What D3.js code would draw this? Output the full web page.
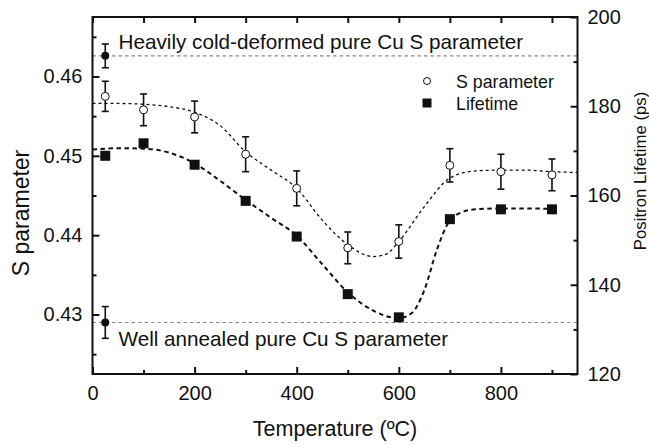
<!DOCTYPE html>
<html>
<head>
<meta charset="utf-8">
<script src="https://cdn.jsdelivr.net/npm/d3@7"></script>
<style>
  html, body { margin: 0; padding: 0; background: #fff; }
  svg { display: block; font-family: "Liberation Sans", Arial, Helvetica, sans-serif; }
</style>
</head>
<body>
<svg id="chart" width="649" height="445"></svg>
<script>
// Annealing temperatures (ºC)
const temperatures = [25, 100, 200, 300, 400, 500, 600, 700, 800, 900];
// Doppler S parameter and its uncertainty
const sValues = [0.4575, 0.4558, 0.4549, 0.4502, 0.4459, 0.4384, 0.4392, 0.4488, 0.4480, 0.4476];
const sErrors = [0.0019, 0.0020, 0.0020, 0.0022, 0.0022, 0.0020, 0.0021, 0.0021, 0.0022, 0.0020];
// Mean positron lifetime (ps)
const lifetimes = [168.9, 171.7, 166.9, 158.8, 150.8, 137.9, 132.7, 154.7, 156.9, 156.9];

// Reference samples measured at room temperature
const refTemperature = 25;
const heavyS = 0.4626, heavyErr = 0.0015;
const annealedS = 0.4290, annealedErr = 0.0020;

// Fitted trend curves (knots)
const sFitT = [0, 50, 100, 150, 200, 250, 300, 350, 400, 450, 500, 550, 575, 600, 650, 700, 750, 800, 850, 900, 950];
const sFitV = [0.4566, 0.4566, 0.4565, 0.4562, 0.4555, 0.4538, 0.4505, 0.4482, 0.4459, 0.4419, 0.4388, 0.4373, 0.4376, 0.4392, 0.4436, 0.4472, 0.4481, 0.4482, 0.4482, 0.4480, 0.4479];
const lFitT = [0, 50, 100, 150, 200, 250, 300, 350, 400, 450, 500, 550, 600, 625, 650, 675, 700, 725, 750, 800, 850, 900];
const lFitV = [170.3, 170.6, 170.5, 169.6, 167.2, 163.3, 159.0, 155.0, 151.0, 144.6, 138.3, 134.2, 132.5, 133.6, 138.8, 148.0, 154.4, 156.3, 156.9, 157.1, 157.1, 157.0];

const xTicks = [0, 200, 400, 600, 800];
const sTicks = [0.43, 0.44, 0.45, 0.46];
const lTicks = [120, 140, 160, 180, 200];

const svg = d3.select("#chart");
const m = { left: 92.5, right: 577.5, top: 17, bottom: 374 };
const ink = "#111";

const x = d3.scaleLinear().domain([0, 950]).range([m.left, m.right]);
const yS = d3.scaleLinear().domain([0.4225, 0.4675]).range([m.bottom, m.top]);
const yL = d3.scaleLinear().domain([120, 200]).range([m.bottom, m.top]);

svg.append("defs").append("clipPath").attr("id", "plot")
  .append("rect").attr("x", m.left).attr("y", m.top)
  .attr("width", m.right - m.left).attr("height", m.bottom - m.top);

const plot = svg.append("g").attr("clip-path", "url(#plot)");

// Reference levels
[heavyS, annealedS].forEach(v => {
  plot.append("line")
    .attr("x1", m.left).attr("x2", m.right)
    .attr("y1", yS(v)).attr("y2", yS(v))
    .attr("stroke", "#8a8a8a").attr("stroke-width", 1.1)
    .attr("stroke-dasharray", "3.5,3");
});

// Fit curves
plot.append("path")
  .datum(sFitT.map((t, i) => [t, sFitV[i]]))
  .attr("d", d3.line().x(d => x(d[0])).y(d => yS(d[1])).curve(d3.curveMonotoneX))
  .attr("fill", "none").attr("stroke", ink).attr("stroke-width", 1.3)
  .attr("stroke-dasharray", "3,3");
plot.append("path")
  .datum(lFitT.map((t, i) => [t, lFitV[i]]))
  .attr("d", d3.line().x(d => x(d[0])).y(d => yL(d[1])).curve(d3.curveMonotoneX))
  .attr("fill", "none").attr("stroke", ink).attr("stroke-width", 2)
  .attr("stroke-dasharray", "4.5,3.5");

// Error bars
function errorBar(t, v, e) {
  const g = svg.append("g").attr("stroke", ink).attr("stroke-width", 1.6);
  const cx = x(t), y1 = yS(v + e), y2 = yS(v - e), w = 3.5;
  g.append("line").attr("x1", cx).attr("x2", cx).attr("y1", y1).attr("y2", y2);
  g.append("line").attr("x1", cx - w).attr("x2", cx + w).attr("y1", y1).attr("y2", y1);
  g.append("line").attr("x1", cx - w).attr("x2", cx + w).attr("y1", y2).attr("y2", y2);
}
temperatures.forEach((t, i) => errorBar(t, sValues[i], sErrors[i]));
errorBar(refTemperature, heavyS, heavyErr);
errorBar(refTemperature, annealedS, annealedErr);

// Lifetime markers
svg.append("g").selectAll("rect").data(temperatures).join("rect")
  .attr("x", d => x(d) - 5).attr("y", (d, i) => yL(lifetimes[i]) - 5)
  .attr("width", 10).attr("height", 10).attr("fill", ink);

// S parameter markers
svg.append("g").selectAll("circle").data(temperatures).join("circle")
  .attr("cx", d => x(d)).attr("cy", (d, i) => yS(sValues[i]))
  .attr("r", 4).attr("fill", "#fff").attr("stroke", ink).attr("stroke-width", 1);

// Reference markers
[heavyS, annealedS].forEach(v => {
  svg.append("circle").attr("cx", x(refTemperature)).attr("cy", yS(v))
    .attr("r", 4).attr("fill", ink);
});

// Annotations
svg.append("text").attr("x", 118.5).attr("y", 49).attr("font-size", 20.7).attr("fill", ink)
  .text("Heavily cold-deformed pure Cu S parameter");
svg.append("text").attr("x", 118.5).attr("y", 346).attr("font-size", 20.7).attr("fill", ink)
  .text("Well annealed pure Cu S parameter");

// Legend
svg.append("circle").attr("cx", 427).attr("cy", 81).attr("r", 3.5)
  .attr("fill", "#fff").attr("stroke", ink).attr("stroke-width", 1);
svg.append("rect").attr("x", 422.5).attr("y", 98.5).attr("width", 9).attr("height", 9).attr("fill", ink);
svg.append("text").attr("x", 456).attr("y", 88).attr("font-size", 17.8).attr("fill", ink).text("S parameter");
svg.append("text").attr("x", 456).attr("y", 110).attr("font-size", 17.8).attr("fill", ink).text("Lifetime");

// Axes with inward ticks
function styleAxis(g) {
  g.select(".domain").remove();
  g.selectAll("line").attr("stroke", ink).attr("stroke-width", 2);
  g.selectAll("text").attr("fill", ink).attr("font-size", 20);
}
const xMinor = d3.range(100, 950, 200);
const sMinor = [0.425, 0.435, 0.445, 0.455, 0.465];
const lMinor = [130, 150, 170, 190];

// bottom
svg.append("g").attr("transform", `translate(0,${m.bottom})`)
  .call(d3.axisBottom(x).tickValues(xTicks).tickFormat(d3.format("d")).tickSizeInner(-7).tickSizeOuter(0).tickPadding(12))
  .call(styleAxis);
svg.append("g").attr("transform", `translate(0,${m.bottom})`)
  .call(d3.axisBottom(x).tickValues(xMinor).tickFormat("").tickSizeInner(-4).tickSizeOuter(0))
  .call(styleAxis);
// top
svg.append("g").attr("transform", `translate(0,${m.top})`)
  .call(d3.axisTop(x).tickValues(xTicks.concat(xMinor)).tickFormat("").tickSize(-6).tickSizeOuter(0))
  .call(styleAxis);
// left
svg.append("g").attr("transform", `translate(${m.left},0)`)
  .call(d3.axisLeft(yS).tickValues(sTicks).tickFormat(d3.format(".2f")).tickSizeInner(-7).tickSizeOuter(0).tickPadding(10))
  .call(styleAxis);
svg.append("g").attr("transform", `translate(${m.left},0)`)
  .call(d3.axisLeft(yS).tickValues(sMinor).tickFormat("").tickSizeInner(-4).tickSizeOuter(0))
  .call(styleAxis);
// right
svg.append("g").attr("transform", `translate(${m.right},0)`)
  .call(d3.axisRight(yL).tickValues(lTicks).tickFormat(d3.format("d")).tickSizeInner(-7).tickSizeOuter(0).tickPadding(10))
  .call(styleAxis);
svg.append("g").attr("transform", `translate(${m.right},0)`)
  .call(d3.axisRight(yL).tickValues(lMinor).tickFormat("").tickSizeInner(-4).tickSizeOuter(0))
  .call(styleAxis);

// Frame
svg.append("rect").attr("x", m.left).attr("y", m.top)
  .attr("width", m.right - m.left).attr("height", m.bottom - m.top)
  .attr("fill", "none").attr("stroke", ink).attr("stroke-width", 2);

// Axis titles
svg.append("text").attr("x", (m.left + m.right) / 2).attr("y", 436)
  .attr("text-anchor", "middle").attr("font-size", 21.5).attr("fill", ink)
  .text("Temperature (ºC)");
svg.append("text").attr("transform", `translate(29,213) rotate(-90)`)
  .attr("text-anchor", "middle").attr("font-size", 23).attr("fill", ink)
  .text("S parameter");
svg.append("text").attr("transform", `translate(646,171) rotate(-90)`)
  .attr("text-anchor", "middle").attr("font-size", 16.8).attr("fill", ink)
  .text("Positron Lifetime (ps)");
</script>
</body>
</html>
